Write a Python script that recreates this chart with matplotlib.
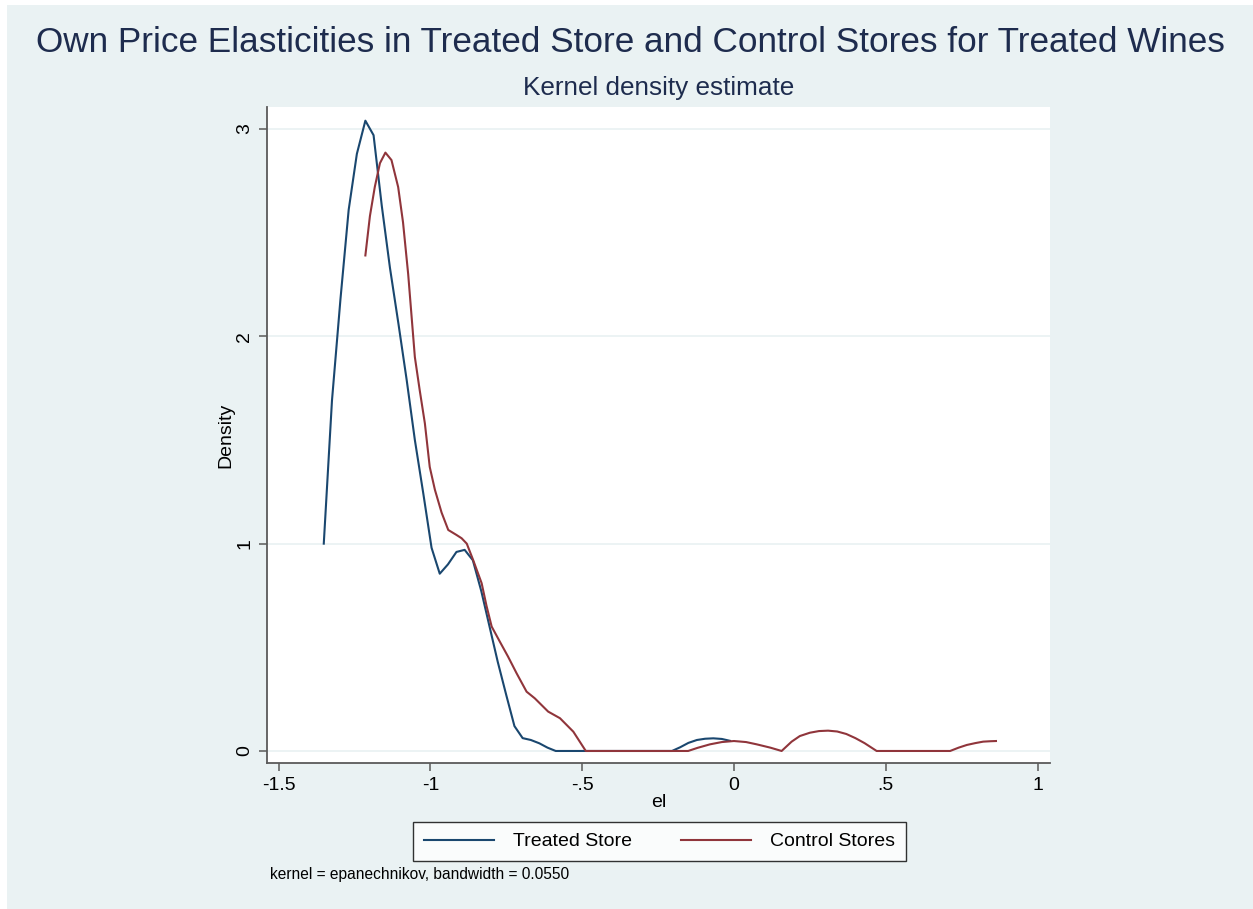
#!/usr/bin/env python3
"""Kernel density of own price elasticities: treated store vs control stores."""

import matplotlib

matplotlib.use("Agg")
import matplotlib.pyplot as plt
from matplotlib.patches import Rectangle

plt.rcParams["font.family"] = ["Liberation Sans", "DejaVu Sans"]

# Treated store density (50 evaluation points)
treated_el = [
    -1.351, -1.324, -1.296, -1.269, -1.242, -1.214, -1.187, -1.160, -1.133, -1.105,
    -1.078, -1.051, -1.023, -0.996, -0.969, -0.942, -0.914, -0.887, -0.860, -0.832,
    -0.805, -0.778, -0.750, -0.723, -0.696, -0.669, -0.641, -0.614, -0.587, -0.559,
    -0.532, -0.505, -0.477, -0.450, -0.423, -0.396, -0.368, -0.341, -0.314, -0.286,
    -0.259, -0.232, -0.204, -0.177, -0.150, -0.122, -0.095, -0.068, -0.040, -0.013,
]
treated_density = [
    1.00, 1.69, 2.18, 2.61, 2.88, 3.04, 2.97, 2.63, 2.33, 2.06,
    1.79, 1.50, 1.24, 0.98, 0.855, 0.90, 0.96, 0.97, 0.92, 0.77,
    0.60, 0.43, 0.27, 0.12, 0.062, 0.053, 0.037, 0.016, 0.0, 0.0,
    0.0, 0.0, 0.0, 0.0, 0.0, 0.0, 0.0, 0.0, 0.0, 0.0,
    0.0, 0.0, 0.0, 0.018, 0.039, 0.053, 0.059, 0.061, 0.058, 0.049,
]

# Control stores density
control_el = [
    -1.214, -1.199, -1.183, -1.166, -1.148, -1.128, -1.106, -1.090, -1.073, -1.062,
    -1.051, -1.035, -1.018, -1.002, -0.985, -0.963, -0.941, -0.914, -0.897, -0.880,
    -0.859, -0.831, -0.815, -0.798, -0.771, -0.744, -0.716, -0.683, -0.656, -0.612,
    -0.573, -0.529, -0.488, -0.151, -0.120, -0.079, -0.040, 0.000, 0.040, 0.075,
    0.120, 0.157, 0.190, 0.217, 0.250, 0.280, 0.310, 0.340, 0.370, 0.400,
    0.430, 0.470, 0.712, 0.740, 0.767, 0.795, 0.821, 0.845, 0.863,
]
control_density = [
    2.39, 2.58, 2.72, 2.835, 2.886, 2.85, 2.72, 2.55, 2.30, 2.10,
    1.90, 1.74, 1.58, 1.37, 1.26, 1.15, 1.066, 1.042, 1.026, 1.00,
    0.921, 0.809, 0.70, 0.60, 0.527, 0.455, 0.375, 0.286, 0.254, 0.190,
    0.158, 0.093, 0.0, 0.0, 0.015, 0.032, 0.043, 0.048, 0.043, 0.032,
    0.016, 0.0, 0.045, 0.072, 0.088, 0.096, 0.098, 0.094, 0.082, 0.062,
    0.038, 0.0, 0.0, 0.016, 0.029, 0.038, 0.045, 0.047, 0.048,
]

x_ticks = [-1.5, -1, -0.5, 0, 0.5, 1]
x_tick_labels = ["-1.5", "-1", "-.5", "0", ".5", "1"]
y_ticks = [0, 1, 2, 3]
y_tick_labels = ["0", "1", "2", "3"]

BG = "#EAF2F3"
NAVY = "#1A476F"
MAROON = "#90353B"
TITLE_COLOR = "#1E2C4E"
AXIS_COLOR = "#5a5a5a"

W, H = 1253, 909
fig = plt.figure(figsize=(W / 100, H / 100), dpi=100)
fig.patch.set_facecolor(BG)
# thin white strip along the top and left edges
fig.patches.append(
    Rectangle((0, 0), 7 / W, 1, transform=fig.transFigure,
              facecolor="white", edgecolor="none", zorder=-10)
)
fig.patches.append(
    Rectangle((0, 1 - 5 / H), 1, 5 / H, transform=fig.transFigure,
              facecolor="white", edgecolor="none", zorder=-10)
)

ax = fig.add_axes([267 / W, 1 - 763 / H, (1050 - 267) / W, (763 - 107) / H])
ax.set_facecolor("white")

for yt in y_ticks:
    ax.axhline(yt, color=BG, lw=1.3, zorder=1)

ax.plot(treated_el, treated_density, color=NAVY, lw=1.5, label="Treated Store", zorder=3)
ax.plot(control_el, control_density, color=MAROON, lw=1.5, label="Control Stores", zorder=3)

ax.set_xlim(-1.538, 1.041)
ax.set_ylim(-0.058, 3.106)
ax.set_xticks(x_ticks)
ax.set_xticklabels(x_tick_labels, fontsize=14)
ax.set_yticks(y_ticks)
ax.set_yticklabels(y_tick_labels, fontsize=14, rotation=90, va="center")

for side in ("top", "right"):
    ax.spines[side].set_visible(False)
for side in ("left", "bottom"):
    ax.spines[side].set_color(AXIS_COLOR)
    ax.spines[side].set_linewidth(1.3)
ax.tick_params(axis="both", length=6, width=1.1, color=AXIS_COLOR, pad=4)

ax.set_xlabel("el", fontsize=14, labelpad=0)
ax.set_ylabel("Density", fontsize=14, labelpad=1)

fig.text(630 / W, 1 - 43 / H, "Own Price Elasticities in Treated Store and Control Stores for Treated Wines",
         ha="center", va="center", fontsize=25.3, color=TITLE_COLOR)
fig.text(658.5 / W, 1 - 88 / H, "Kernel density estimate",
         ha="center", va="center", fontsize=18.8, color=TITLE_COLOR)

leg = fig.legend(
    loc="center", bbox_to_anchor=(659.5 / W, 1 - 841.5 / H), ncol=2, fontsize=14,
    frameon=True, fancybox=False, edgecolor="black", facecolor="white",
    handlelength=3.6, handletextpad=1.0, columnspacing=2.5, borderpad=0.55,
)
leg.get_frame().set_linewidth(1.0)

fig.text(270 / W, 1 - 874 / H, "kernel = epanechnikov, bandwidth = 0.0550",
         ha="left", va="center", fontsize=11.2, color="black")

fig.savefig("out.png", dpi=100, facecolor=fig.get_facecolor())
